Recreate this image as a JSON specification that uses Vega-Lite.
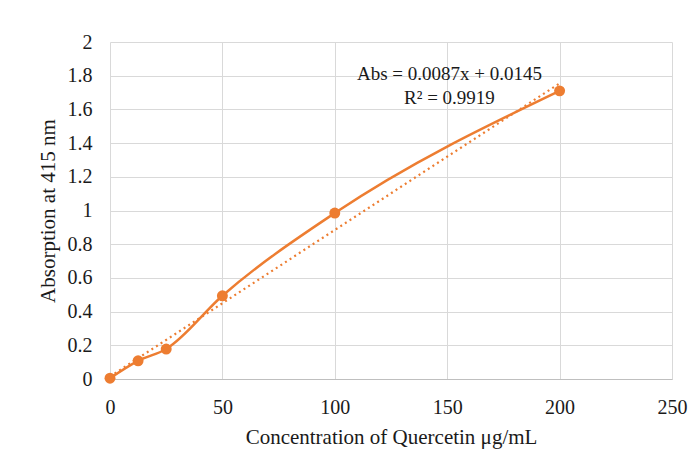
{
  "$schema": "https://vega.github.io/schema/vega-lite/v6.json",
  "autosize": "none",
  "width": 562,
  "height": 337,
  "padding": {"left": 110, "top": 42, "right": 27, "bottom": 89},
  "background": "white",
  "config": {
    "font": "Liberation Serif",
    "view": {"stroke": null},
    "axis": {
      "labelFont": "Liberation Serif",
      "titleFont": "Liberation Serif",
      "labelFontSize": 20,
      "titleFontSize": 21,
      "labelColor": "#1a1a1a",
      "titleColor": "#1a1a1a",
      "titleFontWeight": "normal",
      "gridColor": "#d9d9d9",
      "gridWidth": 1,
      "domainColor": "#bfbfbf",
      "ticks": false,
      "labelOverlap": false
    }
  },
  "datasets": {
    "obs": [
      {"conc": 0, "abs": 0.005},
      {"conc": 12.5, "abs": 0.108},
      {"conc": 25, "abs": 0.178},
      {"conc": 50, "abs": 0.494},
      {"conc": 100, "abs": 0.985},
      {"conc": 200, "abs": 1.71}
    ],
    "trend": [
      {"conc": 0, "abs": 0.0145},
      {"conc": 200, "abs": 1.7545}
    ],
    "notes": [
      {"conc": 151, "abs": 1.81, "label": "Abs = 0.0087x + 0.0145"},
      {"conc": 151, "abs": 1.665, "label": "R² = 0.9919"}
    ]
  },
  "layer": [
    {
      "data": {"name": "trend"},
      "mark": {"type": "line", "color": "#ED7D31", "strokeWidth": 2.2, "strokeDash": [2, 3.5]},
      "encoding": {
        "x": {
          "field": "conc", "type": "quantitative",
          "scale": {"domain": [0, 250], "nice": false},
          "axis": {"values": [0, 50, 100, 150, 200, 250], "tickCount": 6, "labelPadding": 18, "title": "Concentration of Quercetin μg/mL", "titlePadding": 9, "domain": true, "labelFlush": false}
        },
        "y": {
          "field": "abs", "type": "quantitative",
          "scale": {"domain": [0, 2], "nice": false},
          "axis": {"values": [0, 0.2, 0.4, 0.6, 0.8, 1, 1.2, 1.4, 1.6, 1.8, 2], "tickCount": 11, "format": "~g", "labelPadding": 18, "title": "Absorption at 415 nm", "titlePadding": 9, "domain": false, "labelFlush": false}
        }
      }
    },
    {
      "data": {"name": "obs"},
      "mark": {"type": "line", "color": "#ED7D31", "strokeWidth": 2.5, "interpolate": "monotone"},
      "encoding": {
        "x": {"field": "conc", "type": "quantitative"},
        "y": {"field": "abs", "type": "quantitative"}
      }
    },
    {
      "data": {"name": "obs"},
      "mark": {"type": "point", "filled": true, "opacity": 1, "color": "#ED7D31", "size": 120},
      "encoding": {
        "x": {"field": "conc", "type": "quantitative"},
        "y": {"field": "abs", "type": "quantitative"}
      }
    },
    {
      "data": {"name": "notes"},
      "mark": {"type": "text", "font": "Liberation Serif", "fontSize": 19, "color": "#1a1a1a", "align": "center", "baseline": "middle"},
      "encoding": {
        "x": {"field": "conc", "type": "quantitative"},
        "y": {"field": "abs", "type": "quantitative"},
        "text": {"field": "label"}
      }
    }
  ]
}
